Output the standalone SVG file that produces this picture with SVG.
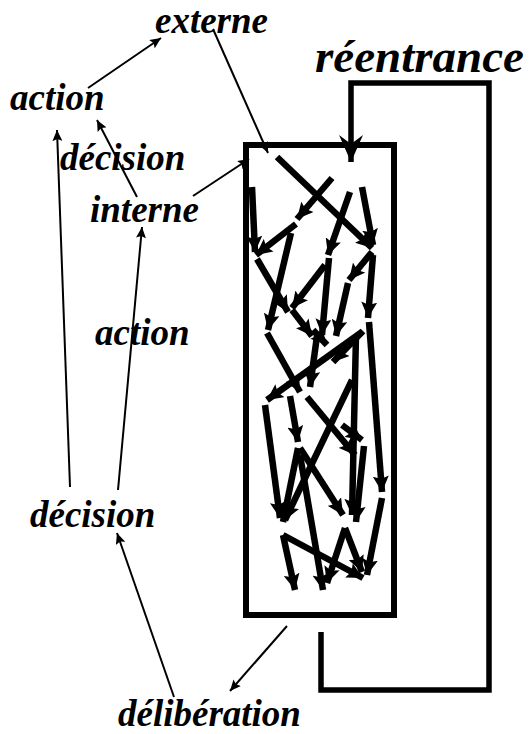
<svg xmlns="http://www.w3.org/2000/svg" width="531" height="734" viewBox="0 0 531 734">
  <style>
    .lbl { font-family: "Liberation Serif", "Times New Roman", serif; font-weight: bold; font-style: italic; font-size: 37px; fill: #000; }
    .big { font-size: 47px; }
    .thin { stroke: #000; stroke-width: 2; fill: none; marker-end: url(#headThin); }
    .thick { stroke: #000; stroke-width: 5.5; fill: none; stroke-linecap: butt; }
    .walk line { stroke: #000; stroke-width: 6.5; marker-end: url(#headThick); }
    .frame { stroke: #000; stroke-width: 6; fill: none; }
  </style>
  <defs>
    <marker id="headThin" markerUnits="userSpaceOnUse" markerWidth="12" markerHeight="10" refX="11" refY="5" orient="auto">
      <path d="M0,0 L11,5 L0,10 L2,5 z" fill="#000"/>
    </marker>
    <marker id="headThick" markerUnits="userSpaceOnUse" markerWidth="17" markerHeight="16" refX="16" refY="8" orient="auto">
      <path d="M0,0 L16,8 L0,16 L3,8 z" fill="#000"/>
    </marker>
    <marker id="headLoop" markerUnits="userSpaceOnUse" markerWidth="28" markerHeight="24" refX="27" refY="12" orient="auto">
      <path d="M0,0 L27,12 L0,24 L9,12 z" fill="#000"/>
    </marker>
  </defs>

  <!-- labels -->
  <g id="externe"><text class="lbl" x="155" y="33">externe</text></g>
  <g id="reentrance"><text class="lbl big" x="315" y="72">réentrance</text></g>
  <g id="action-haut"><text class="lbl" x="10" y="110">action</text></g>
  <g id="decision-haut"><text class="lbl" x="60" y="170">décision</text></g>
  <g id="interne"><text class="lbl" x="90" y="222">interne</text></g>
  <g id="action-milieu"><text class="lbl" x="95" y="345">action</text></g>
  <g id="decision-bas"><text class="lbl" x="30" y="527">décision</text></g>
  <g id="deliberation"><text class="lbl" x="118" y="726">délibération</text></g>

  <!-- brain box -->
  <g id="cerveau">
    <rect class="frame" x="246" y="145" width="148" height="470"/>
  </g>

  <!-- connectors -->
  <g id="connecteurs">
    <line class="thin" x1="88" y1="88" x2="161" y2="38"/>
    <line class="thin" x1="213" y1="29" x2="268" y2="153"/>
    <line class="thin" x1="193" y1="196" x2="249" y2="159"/>
    <line class="thin" x1="137" y1="197" x2="97" y2="120"/>
    <line class="thin" x1="70" y1="487" x2="57" y2="130"/>
    <line class="thin" x1="118" y1="490" x2="142" y2="227"/>
    <line class="thin" x1="174" y1="697" x2="117" y2="533"/>
    <line class="thin" x1="287" y1="626" x2="230" y2="691"/>
    <!-- re-entrant loop -->
    <polyline class="thick" stroke-width="5" points="321,632 321,690 489,690 489,83 351,83 351,162" marker-end="url(#headLoop)"/>
  </g>

  <!-- internal tangle of thick arrows -->
  <g id="trajets" class="walk">
    <line x1="277" y1="157" x2="372" y2="248"/>
    <line x1="332" y1="178" x2="297" y2="219"/>
    <line x1="296" y1="224" x2="256" y2="255"/>
    <line x1="252" y1="187" x2="255" y2="252"/>
    <line x1="350" y1="192" x2="328" y2="255"/>
    <line x1="362" y1="187" x2="373" y2="245"/>
    <line x1="372" y1="252" x2="349" y2="280"/>
    <line x1="257" y1="259" x2="288" y2="312"/>
    <line x1="291" y1="233" x2="268" y2="330"/>
    <line x1="329" y1="258" x2="322" y2="335"/>
    <line x1="325" y1="265" x2="292" y2="308"/>
    <line x1="292" y1="310" x2="312" y2="336"/>
    <line x1="348" y1="283" x2="336" y2="336"/>
    <line x1="373" y1="255" x2="368" y2="318"/>
    <line x1="267" y1="333" x2="300" y2="392"/>
    <line x1="362" y1="332" x2="267" y2="400"/>
    <line x1="317" y1="336" x2="310" y2="387"/>
    <line x1="313" y1="330" x2="327" y2="345"/>
    <line x1="363" y1="331" x2="333" y2="362"/>
    <line x1="356" y1="335" x2="352" y2="515"/>
    <line x1="369" y1="322" x2="382" y2="492"/>
    <line x1="307" y1="397" x2="355" y2="455"/>
    <line x1="352" y1="380" x2="285" y2="520"/>
    <line x1="265" y1="405" x2="280" y2="518"/>
    <line x1="290" y1="396" x2="298" y2="442"/>
    <line x1="298" y1="448" x2="283" y2="522"/>
    <line x1="300" y1="448" x2="343" y2="515"/>
    <line x1="300" y1="455" x2="323" y2="590"/>
    <line x1="342" y1="425" x2="362" y2="440"/>
    <line x1="364" y1="446" x2="356" y2="522"/>
    <line x1="382" y1="498" x2="367" y2="575"/>
    <line x1="283" y1="535" x2="295" y2="590"/>
    <line x1="283" y1="535" x2="363" y2="578"/>
    <line x1="345" y1="528" x2="327" y2="583"/>
    <line x1="345" y1="528" x2="362" y2="572"/>
  </g>
</svg>
